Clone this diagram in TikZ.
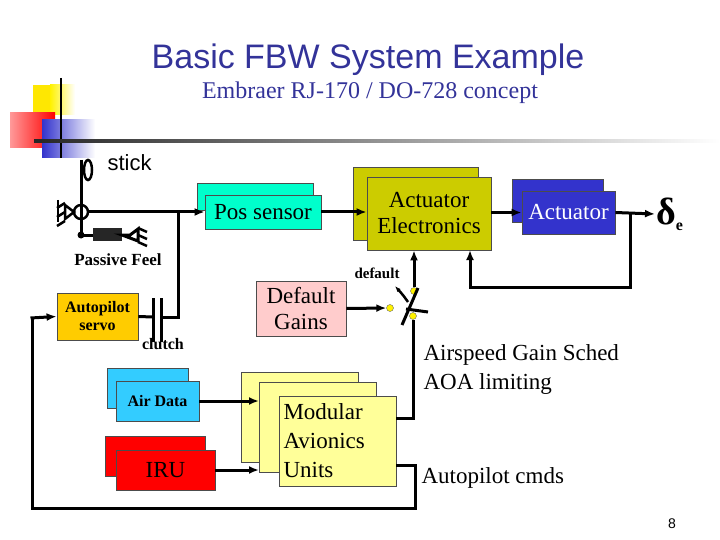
\documentclass[tikz,border=0pt]{standalone}
\usepackage{fontspec}
\setmainfont{Liberation Serif}
\newfontfamily\sansf{Liberation Sans}
\usetikzlibrary{arrows.meta}
\definecolor{ttl}{RGB}{51,51,153}
\definecolor{possens}{RGB}{0,255,204}
\definecolor{olive}{RGB}{204,204,0}
\definecolor{actblue}{RGB}{51,51,204}
\definecolor{pinkg}{RGB}{255,204,204}
\definecolor{lyel}{RGB}{255,255,153}
\definecolor{airc}{RGB}{51,204,255}
\definecolor{servo}{RGB}{255,204,0}
\begin{document}
\begin{tikzpicture}[x=1pt,y=-1pt,
  box/.style={draw=black!70, thick, inner sep=0pt, align=center},
  wire/.style={line width=3pt},
  arr/.style={line width=3pt, -{Latex[length=10pt,width=8pt]}},
  dot/.style={circle, draw=black!60, fill=yellow, inner sep=0pt, minimum size=7pt},
  big/.style={font=\fontsize{23}{26}\selectfont},
  lab/.style={font=\fontsize{23}{29}\selectfont}]
\useasboundingbox (0,0) rectangle (720,540);
% decoration
\fill[yellow!90!orange] (33,85) rectangle (67,115);
\shade[left color=yellow!90!orange, right color=white] (50,85) rectangle (75,115);
\shade[left color=red!40!white, right color=red] (10,113) rectangle (55,148);
\shade[left color=actblue, right color=white] (42,120) rectangle (95,158);
\draw[line width=2pt] (61,78) -- (61,158);
\shade[left color=black!85, right color=white] (34,139.5) rectangle (720,142.5);
% titles
\node[font=\sansf\fontsize{34}{38}\selectfont, text=ttl] (title) at (368,60) {Basic FBW System Example};
\node[font=\fontsize{24}{28}\selectfont, text=ttl] (sub) at (370,93) {Embraer RJ-170 / DO-728 concept};
% stick
\draw[line width=2.5pt] (88,170) ellipse (4 and 10);
\draw[line width=3pt] (81,160) -- (81,235);
\draw[line width=2.5pt] (81,212) circle (7);
\node[font=\sansf\fontsize{22}{26}\selectfont, anchor=west] (stk) at (104,163) {stick};
\draw[line width=2.5pt] (74,212) -- (65,205) -- (65,219) -- cycle;
\foreach \yy in {203,212,221} \draw[line width=2.5pt] (65,\yy) -- (57,\yy+5);
\draw[line width=2.5pt] (58,200) -- (58,222);
\fill (81,235) circle (3.5);
\draw[line width=3pt] (81,235) -- (95,235);
\fill[black!85] (93,228) rectangle (122,241);
\draw[line width=3pt] (122,235) -- (130,235) -- (138,229) -- (138,241) -- cycle;
\foreach \yy in {228,235,242} \draw[line width=2.5pt] (138,\yy) -- (147,\yy+4);
\node[font=\fontsize{17}{20}\selectfont\bfseries] (pf) at (118,260) {Passive Feel};
% pos sensor
\fill[possens, draw=black!70, thick] (197,183) rectangle (313,210);
\node[box, big, fill=possens, minimum width=116pt, minimum height=34pt] (pos) at (263,212) {Pos sensor};
\coordinate (stk0) at (88,212);
\draw[arr] (stk0) -- (pos.west);
% actuator electronics
\fill[olive, draw=black!70, thick] (353,167) rectangle (478,240);
\node[box, big, fill=olive, minimum width=124pt, minimum height=73pt] (ae) at (429,213.5) {Actuator\\Electronics};
\draw[arr] (pos.east) -- (ae.west |- pos.east);
% actuator
\fill[actblue, draw=black!70, thick] (512,179) rectangle (603,222);
\node[box, big, fill=actblue, text=white, minimum width=93pt, minimum height=43pt] (act) at (568.5,212.5) {Actuator};
\draw[arr] (ae.east |- act.west) -- (act.west);
\node[font=\fontsize{38}{40}\selectfont\bfseries, anchor=west, inner sep=1pt] (de) at (655,214) {δ\raisebox{-0.35ex}{\fontsize{16}{18}\selectfont e}};
\draw[arr] (act.east) -- (de.west);
\coordinate (fb) at (470,250);
\draw[arr] (630,213) -- (630,287) -- (470,287) -- (fb);
% autopilot servo
\node[box, fill=servo, minimum width=81pt, minimum height=47pt, font=\fontsize{16}{18}\selectfont\bfseries] (srv) at (97.5,316.5) {Autopilot\\servo};
\draw[wire] (srv.east) -- (153,317);
\draw[line width=3pt] (153,298) -- (153,342) (161,298) -- (161,342);
\draw[wire] (161,317) -- (178,317) -- (178,212);
\node[font=\fontsize{16}{18}\selectfont\bfseries] (cl) at (163,344) {clutch};
% default gains and switch
\node[box, big, fill=pinkg, minimum width=90pt, minimum height=55pt] (dg) at (301,308.5) {Default\\Gains};
\node[dot] (sin) at (390,308) {};
\node[dot] (sup) at (414,291) {};
\node[dot] (sdn) at (413,316) {};
\draw[arr] (dg.east) -- (sin.west);
\draw[arr] (sup.north) -- (sup.north |- ae.south);
\draw[line width=3pt] (402,325) -- (418,288);
\draw[line width=3pt] (406,309) -- (428,312);
\draw[line width=2.5pt, -{Latex[length=6pt]}] (408,302) .. controls (403,295) .. (395,286);
\node[font=\fontsize{15}{18}\selectfont\bfseries] (dflt) at (377,273) {default};
% avionics
\fill[lyel, draw=black!70, thick] (241,372) rectangle (358,462);
\fill[lyel, draw=black!70, thick] (259,382) rectangle (376,472);
\node[box, fill=lyel, minimum width=117pt, minimum height=90pt, font=\fontsize{23}{29}\selectfont, align=left, text width=108pt] (mau) at (337.5,441) {Modular\\Avionics\\Units};
\draw[wire] (mau.east |- 0,418) -- (413,418) -- (sdn.south);
\fill[airc, draw=black!70, thick] (107,368) rectangle (188,408);
\node[box, fill=airc, minimum width=83pt, minimum height=40pt, font=\fontsize{16}{18}\selectfont\bfseries] (ad) at (157.5,401) {Air Data};
\fill[red, draw=black!70, thick] (105,436) rectangle (205,476);
\node[box, big, fill=red, minimum width=99pt, minimum height=40pt] (iru) at (165.5,470) {IRU};
\coordinate (mauA) at (259,401);
\coordinate (mauB) at (259,470);
\draw[arr] (ad.east) -- (mauA);
\draw[arr] (iru.east) -- (mauB);
% autopilot cmds loop
\draw[wire] (mau.east |- 0,465) -- (415,465) -- (415,508) -- (32,508) -- (32,318);
\draw[arr] (30.5,318) -- (srv.west);
% labels
\node[lab, anchor=west, align=left] (gs) at (420,370) {Airspeed Gain Sched\\AOA limiting};
\node[lab, anchor=west] (apc) at (418,478) {Autopilot cmds};
\node[font=\sansf\fontsize{14}{16}\selectfont] (pg) at (672,524) {8};
\end{tikzpicture}
\end{document}
